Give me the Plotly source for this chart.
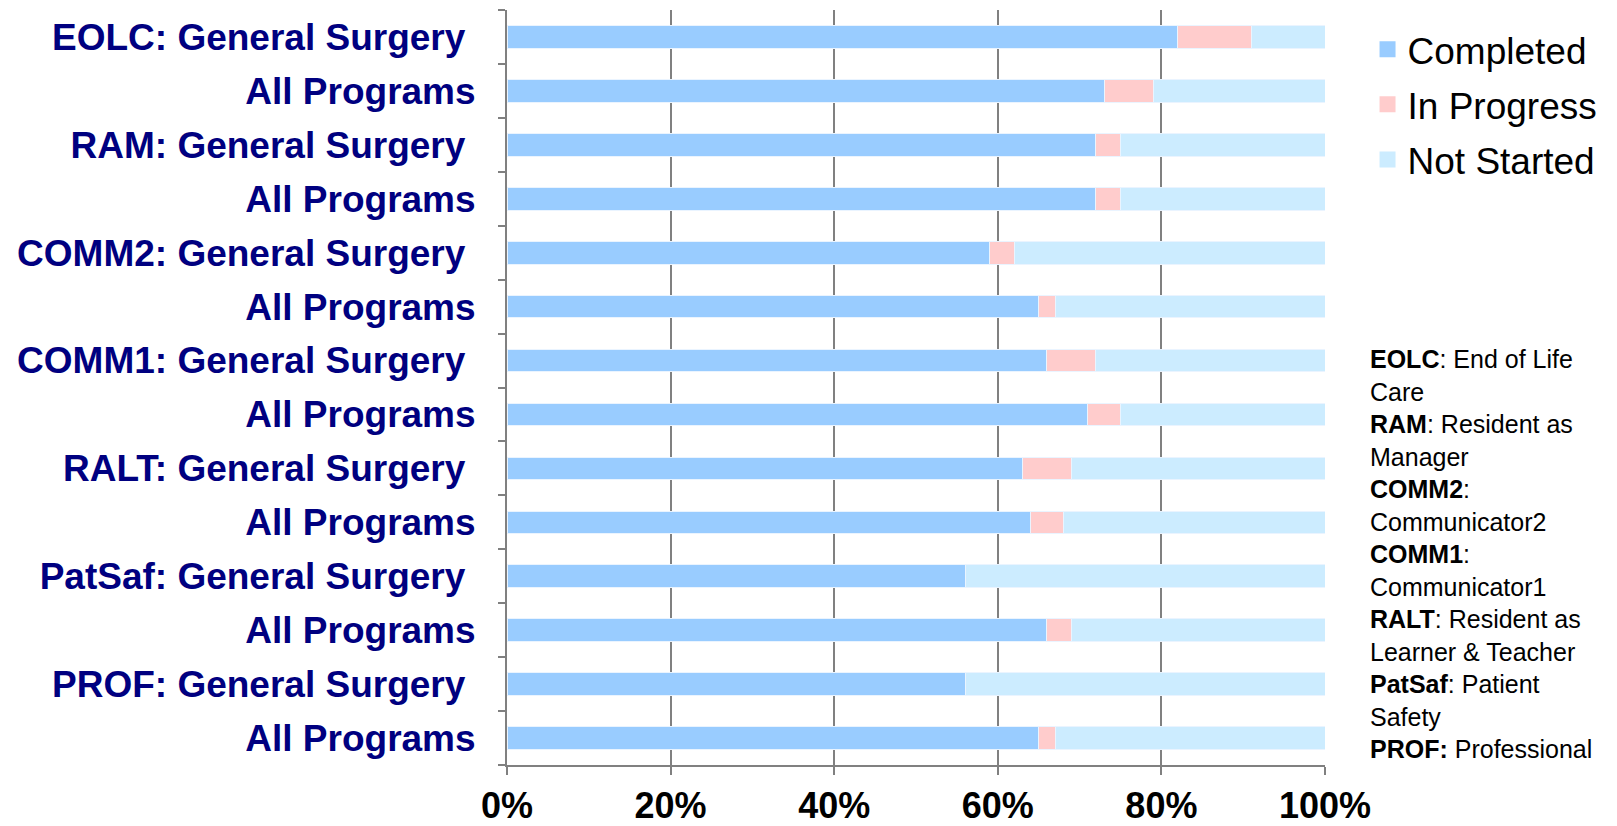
import plotly.graph_objects as go

# rows top to bottom
labels = [
    "EOLC: General Surgery\u00a0", "All Programs",
    "RAM: General Surgery\u00a0", "All Programs",
    "COMM2: General Surgery\u00a0", "All Programs",
    "COMM1: General Surgery\u00a0", "All Programs",
    "RALT: General Surgery\u00a0", "All Programs",
    "PatSaf: General Surgery\u00a0", "All Programs",
    "PROF: General Surgery\u00a0", "All Programs",
]
completed = [82, 73, 72, 72, 59, 65, 66, 71, 63, 64, 56, 66, 56, 65]
in_progress = [9, 6, 3, 3, 3, 2, 6, 4, 6, 4, 0, 3, 0, 2]
not_started = [100 - c - p for c, p in zip(completed, in_progress)]

series = [
    ("Completed", completed, "#99CCFF"),
    ("In Progress", in_progress, "#FFCCCC"),
    ("Not Started", not_started, "#CCECFF"),
]

rows = list(range(len(labels)))

fig = go.Figure()
for name, vals, color in series:
    fig.add_trace(
        go.Bar(
            name=name,
            y=rows,
            x=[v / 100 for v in vals],
            orientation="h",
            width=0.42,
            legendgroup=name,
            showlegend=False,
            marker=dict(color=color, line=dict(width=1, color="#EAF4FF")),
        )
    )
    # legend entry with a bigger square swatch
    fig.add_trace(
        go.Scatter(
            name=name,
            x=[None], y=[None],
            mode="markers",
            legendgroup=name,
            marker=dict(symbol="square", size=18, color=color),
        )
    )

key_text = (
    "<b>EOLC</b>: End of Life<br>Care<br>"
    "<b>RAM</b>: Resident as<br>Manager<br>"
    "<b>COMM2</b>:<br>Communicator2<br>"
    "<b>COMM1</b>:<br>Communicator1<br>"
    "<b>RALT</b>: Resident as<br>Learner &amp; Teacher<br>"
    "<b>PatSaf</b>: Patient<br>Safety<br>"
    "<b>PROF:</b> Professional"
)

fig.add_annotation(
    text=key_text,
    xref="paper", yref="paper",
    x=1.052, y=0.28,
    xanchor="left", yanchor="middle",
    align="left", showarrow=False,
    font=dict(family="Arial, Liberation Sans", size=25, color="black"),
)

# page body adds 8px around the figure
fig.update_layout(
    barmode="stack",
    width=1601, height=818,
    margin=dict(l=499, r=284, t=2, b=61),
    paper_bgcolor="white", plot_bgcolor="white",
    font=dict(family="Arial, Liberation Sans"),
    showlegend=True,
    legend=dict(
        x=1.052, y=0.9885, xanchor="left", yanchor="top",
        traceorder="grouped", tracegroupgap=4,
        font=dict(size=37, color="black"),
        bgcolor="rgba(0,0,0,0)",
    ),
    xaxis=dict(
        range=[0, 1], dtick=0.2, tickformat=".0%",
        showgrid=True, gridcolor="#808080", gridwidth=2,
        showline=True, linecolor="#808080", linewidth=2,
        ticks="outside", ticklen=8, tickcolor="#808080", tickwidth=2,
        ticklabelstandoff=0, automargin=False,
        tickfont=dict(size=36, color="black", weight="bold"),
        zeroline=False, fixedrange=True,
    ),
    yaxis=dict(
        range=[len(labels) - 0.5, -0.5],
        tickmode="array", tickvals=rows, ticktext=labels,
        ticks="", showgrid=False, zeroline=False,
        showline=True, linecolor="#808080", linewidth=2,
        ticklabelstandoff=22, automargin=False,
        tickfont=dict(size=37, color="#000080", weight="bold"),
        minor=dict(tickmode="linear", tick0=0.5, dtick=1, ticks="outside",
                   ticklen=7, tickcolor="#808080", tickwidth=2, showgrid=False),
    ),
)

fig.write_html("out.html")
